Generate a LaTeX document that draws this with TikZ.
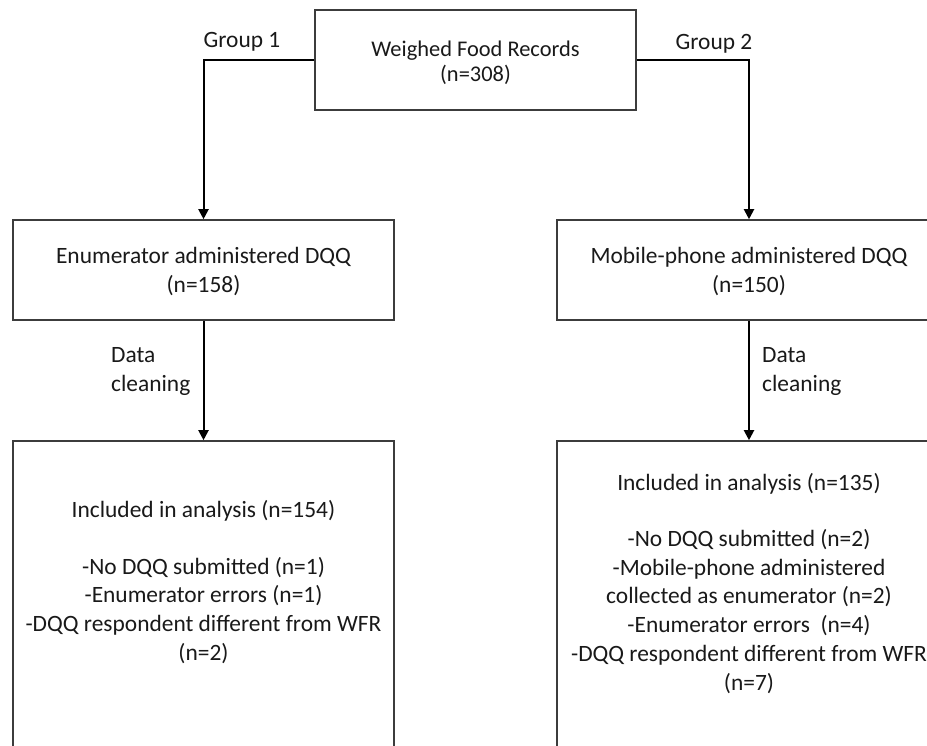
\documentclass[tikz,border=0pt]{standalone}
\usepackage{fontspec}
\setmainfont{Carlito}
\usetikzlibrary{arrows.meta}
\definecolor{boxgray}{RGB}{60,60,60}
\definecolor{txtcol}{RGB}{25,25,25}
\begin{document}
\begin{tikzpicture}[x=1bp,y=-1bp,
  box/.style={draw=boxgray,line width=1.6bp,inner sep=0pt},
  txt/.style={font=\fontsize{23.5}{29}\selectfont,text=txtcol,align=center,inner sep=0pt},
  toptxt/.style={font=\fontsize{22.5}{25}\selectfont,text=txtcol,align=center,inner sep=0pt},
  lbl/.style={font=\fontsize{23.5}{29}\selectfont,text=txtcol,align=left,inner sep=0pt},
  arr/.style={draw=black,line width=2bp,-{Triangle[length=10bp,width=10bp]}}]
\useasboundingbox (0,0) rectangle (927,746);
\clip (0,0) rectangle (927,746);
% boxes
\node[box,minimum width=321bp,minimum height=100bp] (wfr) at (475.5,60) {};
\node[box,minimum width=381bp,minimum height=100bp] (mleft) at (203.5,270) {};
\node[box,minimum width=384bp,minimum height=100bp] (mright) at (749,270) {};
\node[box,minimum width=381bp,minimum height=359bp] (bleft) at (203.5,620.5) {};
\node[box,minimum width=384bp,minimum height=359bp] (bright) at (749,620.5) {};
% texts
\node[toptxt] (wfrt) at (475.5,63) {Weighed Food Records\\(n=308)};
\node[txt] (mleftt) at (203.5,271.5) {Enumerator administered DQQ\\(n=158)};
\node[txt] (mrightt) at (749,271.5) {Mobile-phone administered DQQ\\(n=150)};
\node[txt] (bleftt) at (203.5,582) {Included in analysis (n=154)\\[28bp]-No DQQ submitted (n=1)\\-Enumerator errors (n=1)\\-DQQ respondent different from WFR\\(n=2)};
\node[txt] (brightt) at (749,583.5) {Included in analysis (n=135)\\[27bp]-No DQQ submitted (n=2)\\-Mobile-phone administered\\collected as enumerator (n=2)\\-Enumerator errors~~(n=4)\\-DQQ respondent different from WFR\\(n=7)};
% connectors
\draw[arr] (wfr.west) -| (mleft.north);
\draw[arr] (wfr.east) -| (mright.north);
\draw[arr] (mleft.south) -- (bleft.north);
\draw[arr] (mright.south) -- (bright.north);
% labels
\node[txt] (g1) at (242,42) {Group 1};
\node[txt] (g2) at (714,44) {Group 2};
\node[lbl,anchor=west] (dc1) at (111,371.5) {Data\\cleaning};
\node[lbl,anchor=west] (dc2) at (762,371.5) {Data\\cleaning};
\end{tikzpicture}
\end{document}
